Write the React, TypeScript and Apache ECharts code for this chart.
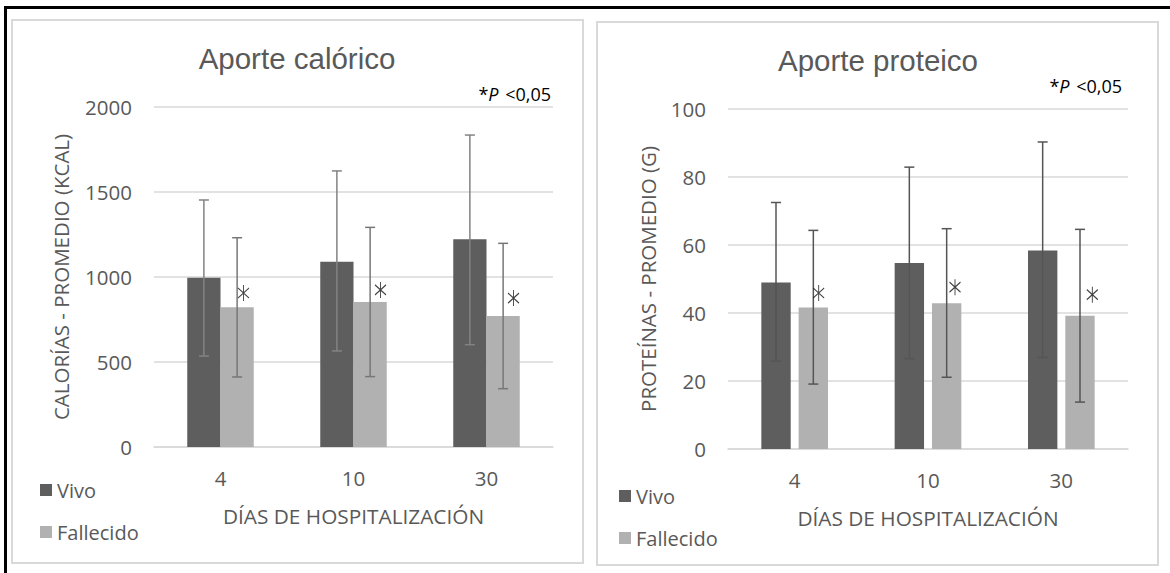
import React, { useEffect, useRef } from "react";
import * as echarts from "echarts";

const categories = ["4", "10", "30"];
const yTicksCal = [0, 500, 1000, 1500, 2000];
const yTicksProt = [0, 20, 40, 60, 80, 100];

const calVivo = [996, 1090, 1222];
const calVivoLow = [535, 565, 602];
const calVivoHigh = [1453, 1624, 1835];
const calFall = [822, 853, 771];
const calFallLow = [412, 414, 343];
const calFallHigh = [1231, 1292, 1198];
const calStar = [906, 924, 876];

const protVivo = [49.0, 54.7, 58.4];
const protVivoLow = [25.8, 26.6, 26.9];
const protVivoHigh = [72.5, 82.9, 90.3];
const protFall = [41.6, 42.9, 39.2];
const protFallLow = [19.1, 21.1, 13.8];
const protFallHigh = [64.3, 64.8, 64.6];
const protStar = [45.9, 47.6, 45.4];

const starOffsetCal = [23, 27, 27];
const starOffsetProt = [24, 27, 31];

const DARK = "#5e5e5e";
const LIGHT = "#b1b1b1";
const TXT = "#595959";
const GRID = "#d9d9d9";
const FONT = "'Open Sans', sans-serif";
const TFONT = "'Liberation Sans', Arial, sans-serif";
const STAR = "path://M0,3L10,13M10,3L0,13M5,0L5,16";

function errorSeries(idx: number, low: number[], high: number[], side: number, factor: number, color: string) {
  return {
    type: "custom",
    xAxisIndex: idx,
    yAxisIndex: idx,
    z: 10,
    silent: true,
    encode: { x: 0, y: [1, 2] },
    data: low.map((l, i) => [i, l, high[i]]),
    renderItem: (params: any, api: any) => {
      const i = api.value(0);
      const lo = api.coord([i, api.value(1)]);
      const hi = api.coord([i, api.value(2)]);
      const band = api.size([1, 0])[0];
      const x = lo[0] + side * band * factor;
      const cap = 5;
      const st = { stroke: color, lineWidth: 1.5 };
      return {
        type: "group",
        children: [
          { type: "line", shape: { x1: x, y1: lo[1], x2: x, y2: hi[1] }, style: st },
          { type: "line", shape: { x1: x - cap, y1: hi[1], x2: x + cap, y2: hi[1] }, style: st },
          { type: "line", shape: { x1: x - cap, y1: lo[1], x2: x + cap, y2: lo[1] }, style: st },
        ],
      };
    },
  };
}

function starSeries(idx: number, vals: number[], offs: number[]) {
  return {
    type: "scatter",
    name: "sig",
    xAxisIndex: idx,
    yAxisIndex: idx,
    z: 12,
    silent: true,
    symbol: STAR,
    symbolSize: [11, 16],
    itemStyle: { color: "transparent", borderColor: "#111", borderWidth: 1.1 },
    data: vals.map((v, i) => ({ value: [i, v], symbolOffset: [offs[i], 0] })),
  };
}

function xAxis(idx: number) {
  return {
    type: "category",
    gridIndex: idx,
    data: categories,
    name: "DÍAS DE HOSPITALIZACIÓN",
    nameLocation: "middle",
    nameGap: 58,
    nameTextStyle: { color: TXT, fontFamily: FONT, fontSize: 20.8 },
    axisLine: { show: true, lineStyle: { color: GRID, width: 1.5 } },
    axisTick: { show: false },
    axisLabel: { color: TXT, fontFamily: FONT, fontSize: 20.5, margin: 20 },
  };
}

function yAxis(idx: number, max: number, interval: number, name: string, gap: number) {
  return {
    type: "value",
    gridIndex: idx,
    min: 0,
    max,
    interval,
    name,
    nameLocation: "middle",
    nameGap: gap,
    nameTextStyle: { color: TXT, fontFamily: FONT, fontSize: 20.5 },
    axisLine: { show: false },
    axisTick: { show: false },
    axisLabel: { color: TXT, fontFamily: FONT, fontSize: 20.5, margin: 22, formatter: (v: number) => String(v) },
    splitLine: { lineStyle: { color: GRID, width: 1.5 } },
  };
}

function pText(x: number, y: number) {
  return {
    type: "text",
    x,
    y,
    style: {
      text: "{a|*}{b|P}  {a|<0,05}",
      align: "right",
      verticalAlign: "middle",
      rich: {
        a: { fontFamily: FONT, fontSize: 18, fill: "#000", color: "#000" },
        b: { fontFamily: FONT, fontSize: 18, fontStyle: "italic", fill: "#000", color: "#000" },
      },
    },
  };
}

function legend(left: number, top: number) {
  return {
    left, top, padding: 0, orient: "vertical", itemWidth: 12, itemHeight: 12, itemGap: 20, icon: "rect",
    data: ["Vivo", "Fallecido"],
    textStyle: { color: TXT, fontFamily: FONT, fontSize: 20, lineHeight: 22 },
  };
}

export default function App() {
  const ref = useRef<HTMLDivElement>(null);
  useEffect(() => {
    document.body.style.margin = "0";
    const chart = echarts.init(ref.current!, null, { renderer: "svg" });
    const leftY = yAxis(0, yTicksCal[yTicksCal.length - 1], yTicksCal[1] - yTicksCal[0], "", 0);
    chart.setOption({
      animation: false,
      backgroundColor: "#fff",
      grid: [
        { left: 154, top: 107, width: 399, height: 340 },
        { left: 728, top: 109, width: 400, height: 340 },
      ],
      xAxis: [xAxis(0), xAxis(1)],
      yAxis: [
        leftY,
        yAxis(1, yTicksProt[yTicksProt.length - 1], yTicksProt[1] - yTicksProt[0], "PROTEÍNAS - PROMEDIO (G)", 70),
      ],
      legend: [legend(40, 479), legend(619, 485)],
      series: [
        { type: "bar", name: "Vivo", xAxisIndex: 0, yAxisIndex: 0, data: calVivo, itemStyle: { color: DARK }, barGap: "0%", barCategoryGap: "50%" },
        { type: "bar", name: "Fallecido", xAxisIndex: 0, yAxisIndex: 0, data: calFall, itemStyle: { color: LIGHT }, barGap: "0%", barCategoryGap: "50%" },
        { type: "bar", name: "Vivo", xAxisIndex: 1, yAxisIndex: 1, data: protVivo, itemStyle: { color: DARK }, barGap: "27%", barCategoryGap: "50%" },
        { type: "bar", name: "Fallecido", xAxisIndex: 1, yAxisIndex: 1, data: protFall, itemStyle: { color: LIGHT }, barGap: "27%", barCategoryGap: "50%" },
        errorSeries(0, calVivoLow, calVivoHigh, -1, 0.125, "#838383"),
        errorSeries(0, calFallLow, calFallHigh, 1, 0.125, "#777777"),
        errorSeries(1, protVivoLow, protVivoHigh, -1, 0.14, "#555555"),
        errorSeries(1, protFallLow, protFallHigh, 1, 0.14, "#555555"),
        starSeries(0, calStar, starOffsetCal),
        starSeries(1, protStar, starOffsetProt),
      ],
      graphic: [
        { type: "line", shape: { x1: 5, y1: 7.5, x2: 1170, y2: 7.5 }, style: { stroke: "#000", lineWidth: 3 } },
        { type: "line", shape: { x1: 5.5, y1: 6, x2: 5.5, y2: 573 }, style: { stroke: "#000", lineWidth: 3 } },
        { type: "rect", shape: { x: 12, y: 20, width: 571, height: 543 }, style: { fill: "none", stroke: GRID, lineWidth: 2 } },
        { type: "rect", shape: { x: 597, y: 22, width: 561, height: 543 }, style: { fill: "none", stroke: GRID, lineWidth: 2 } },
        { type: "text", x: 297, y: 58, style: { text: "Aporte calórico", font: `29.5px ${TFONT}`, fill: TXT, align: "center", verticalAlign: "middle" } },
        { type: "text", x: 878, y: 60, style: { text: "Aporte proteico", font: `29.5px ${TFONT}`, fill: TXT, align: "center", verticalAlign: "middle" } },
        { type: "text", x: 61, y: 277, rotation: Math.PI / 2, style: { text: "CALORÍAS - PROMEDIO (KCAL)", font: `20.5px ${FONT}`, fill: TXT, align: "center", verticalAlign: "middle" } },
        pText(551, 94),
        pText(1122, 86),
      ],
    });
    return () => chart.dispose();
  }, []);
  return <div ref={ref} style={{ width: 1170, height: 573 }} />;
}
